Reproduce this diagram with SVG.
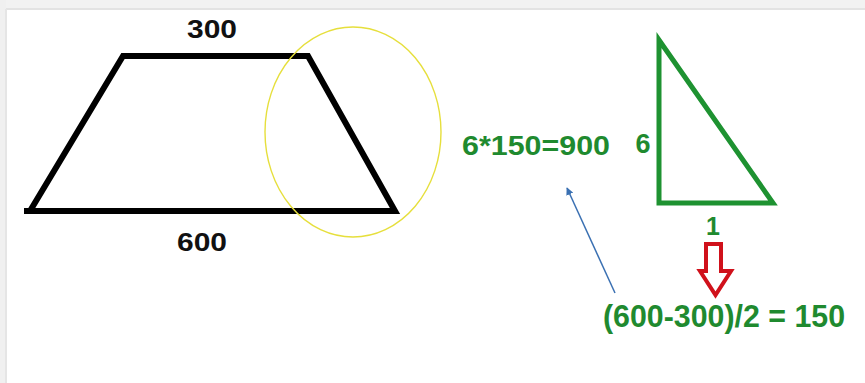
<svg xmlns="http://www.w3.org/2000/svg" width="865" height="383" viewBox="0 0 865 383">
<defs>
<style>
.lbl{font-family:"Liberation Sans",Arial,sans-serif;font-weight:bold;}
.blk{fill:#111;}
.grn{fill:#1f8a2f;}
.shape{fill:none;stroke-linejoin:miter;}
</style>
<marker id="bluehead" viewBox="0 0 10 10" refX="9" refY="5" markerWidth="5" markerHeight="5" orient="auto" markerUnits="strokeWidth">
<path d="M0,0 L10,5 L0,10 z" fill="#3a70b2"/>
</marker>
</defs>
<rect x="0" y="0" width="865" height="383" fill="#ffffff"/>
<rect x="0" y="0" width="865" height="9" fill="#f2f2f2"/>
<rect x="0" y="8" width="865" height="2" fill="#e3e3e3"/>
<rect x="0" y="0" width="6" height="383" fill="#f0f0f0"/>
<rect x="5" y="9" width="2" height="374" fill="#e5e5e5"/>

<g id="trapezoid">
<path class="shape" d="M123,56 L308,56 L395,211 L24,211 L30,211 L123,56 Z" stroke="#000" stroke-width="6"/>
</g>
<g id="ellipse-highlight">
<ellipse cx="353" cy="132" rx="88" ry="105" fill="none" stroke="#e6df3c" stroke-width="1.4"/>
</g>
<g id="label-300">
<text class="lbl blk" x="212" y="38" font-size="26" text-anchor="middle" textLength="50" lengthAdjust="spacingAndGlyphs">300</text>
</g>
<g id="label-600">
<text class="lbl blk" x="202" y="251" font-size="26" text-anchor="middle" textLength="50" lengthAdjust="spacingAndGlyphs">600</text>
</g>

<g id="triangle">
<path class="shape" d="M659,40 L659,203 L773,203 Z" stroke="#1e9231" stroke-width="5"/>
</g>
<g id="label-6">
<text class="lbl grn" x="643" y="153" font-size="27" text-anchor="middle">6</text>
</g>
<g id="label-1">
<text class="lbl grn" x="713" y="235" font-size="25" text-anchor="middle">1</text>
</g>
<g id="label-product">
<text class="lbl grn" x="462" y="155" font-size="28" textLength="148" lengthAdjust="spacingAndGlyphs">6*150=900</text>
</g>
<g id="label-formula">
<text class="lbl grn" x="603" y="327" font-size="32" textLength="242" lengthAdjust="spacingAndGlyphs">(600-300)/2 = 150</text>
</g>

<g id="connectors">
<line x1="615" y1="293" x2="567" y2="188" stroke="#3a70b2" stroke-width="1.5" marker-end="url(#bluehead)"/>
<path d="M706,244 L721,244 L721,271 L731,271 L715.5,295 L700,271 L706,271 Z" fill="#ffffff" stroke="#d0111b" stroke-width="4" stroke-linejoin="miter"/>
</g>
</svg>
